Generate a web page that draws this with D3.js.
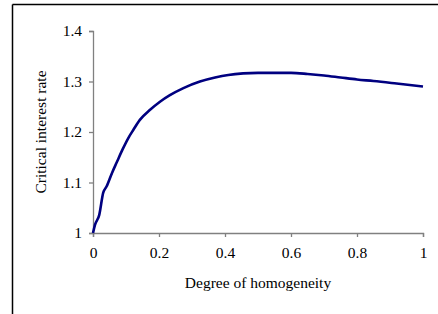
<!DOCTYPE html>
<html>
<head>
<meta charset="utf-8">
<script src="https://cdn.jsdelivr.net/npm/d3@7"></script>
<style>
  body { margin: 0; background: #fff; }
  svg { display: block; }
  text { font-family: "Liberation Serif", "Times New Roman", serif; fill: #000; }
</style>
</head>
<body>
<div id="chart"></div>
<script>
// critical interest rate vs degree of homogeneity
var homogeneity = [0, 0.006, 0.019, 0.031, 0.041, 0.057, 0.072, 0.09, 0.107, 0.122, 0.142,
                   0.173, 0.203, 0.233, 0.274, 0.324, 0.37, 0.41, 0.455, 0.5, 0.55, 0.6, 0.65,
                   0.7, 0.75, 0.8, 0.85, 0.92, 1.0];
var rate = [1.0, 1.016, 1.036, 1.08, 1.092, 1.118, 1.14, 1.166, 1.188, 1.204, 1.224,
            1.244, 1.26, 1.273, 1.287, 1.3, 1.308, 1.313, 1.316, 1.317, 1.317, 1.317, 1.315,
            1.312, 1.308, 1.304, 1.301, 1.296, 1.29];
var xTicks = [0, 0.2, 0.4, 0.6, 0.8, 1];
var yTicks = [1, 1.1, 1.2, 1.3, 1.4];

var width = 438, height = 314;
var margin = { top: 31, right: 15, bottom: 81, left: 93 };

var svg = d3.select("#chart").append("svg")
    .attr("width", width)
    .attr("height", height);

// outer frame (only top and left edges show)
svg.append("line").attr("x1", 12.5).attr("x2", width).attr("y1", 4.5).attr("y2", 4.5)
    .attr("stroke", "#000").attr("stroke-width", 1.5);
svg.append("line").attr("x1", 12.5).attr("x2", 12.5).attr("y1", 4.5).attr("y2", height)
    .attr("stroke", "#000").attr("stroke-width", 1.5);

var x = d3.scaleLinear().domain([0, 1]).range([margin.left, width - margin.right]);
var y = d3.scaleLinear().domain([1, 1.4]).range([height - margin.bottom, margin.top]);

var xAxis = svg.append("g")
    .attr("transform", `translate(0,${y(1)})`)
    .call(d3.axisBottom(x).tickValues(xTicks).tickFormat(d3.format("")).tickSizeOuter(0).tickSize(4).tickPadding(10));

var yAxis = svg.append("g")
    .attr("transform", `translate(${x(0)},0)`)
    .call(d3.axisLeft(y).tickValues(yTicks).tickFormat(d3.format("")).tickSizeOuter(0).tickSize(4).tickPadding(7));

[xAxis, yAxis].forEach(function(g) {
  g.select(".domain").attr("stroke", "#808080").attr("stroke-width", 1.3);
  g.selectAll(".tick line").attr("stroke", "#808080").attr("stroke-width", 1.3);
  g.selectAll(".tick text").attr("font-size", 15.5)
      .style("font-family", '"Liberation Serif", serif').attr("fill", "#000");
});

var line = d3.line()
    .x(function(d, i) { return x(homogeneity[i]); })
    .y(function(d) { return y(d); })
    .curve(d3.curveMonotoneX);

svg.append("path")
    .datum(rate)
    .attr("fill", "none")
    .attr("stroke", "#000080")
    .attr("stroke-width", 2.6)
    .attr("d", line);

svg.append("text")
    .attr("x", (x(0) + x(1)) / 2)
    .attr("y", 288)
    .attr("text-anchor", "middle")
    .attr("font-size", 15.5)
    .text("Degree of homogeneity");

svg.append("text")
    .attr("transform", `translate(46,${(y(1) + y(1.4)) / 2}) rotate(-90)`)
    .attr("text-anchor", "middle")
    .attr("font-size", 15.5)
    .text("Critical interest rate");
</script>
</body>
</html>
